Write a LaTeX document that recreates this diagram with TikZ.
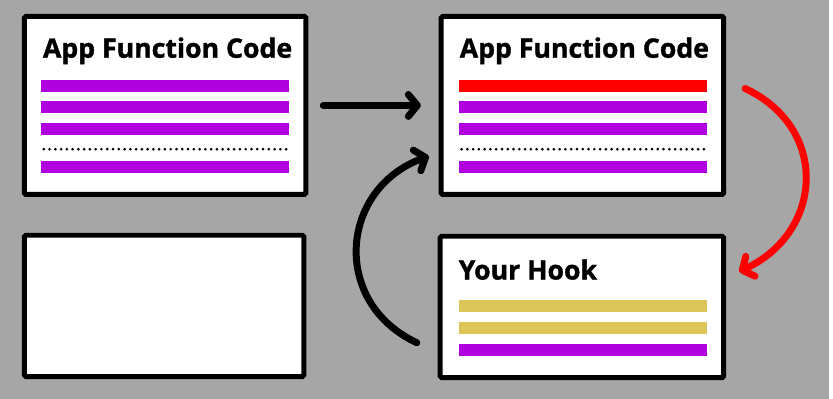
\documentclass[tikz,border=0pt]{standalone}
\usepackage{fontspec}
\setmainfont{Open Sans}[BoldFeatures={FakeBold=1.3}]
\usetikzlibrary{arrows.meta}
\definecolor{bggray}{HTML}{A6A6A6}
\definecolor{codepurple}{HTML}{B100DF}
\definecolor{hookyellow}{HTML}{DCC65A}
\definecolor{hotred}{HTML}{FF0000}
\begin{document}
\begin{tikzpicture}[x=1pt,y=1pt,
    panel/.style={draw,line width=5pt,fill=white,rounded corners=1.5pt,inner sep=0pt},
    heading/.style={anchor=base west,inner sep=0pt,font=\fontsize{26.8}{30}\selectfont\bfseries},
    dots/.style={line width=3pt,line cap=round,dash pattern=on 0pt off 5.8pt},
    flow/.style={line width=7pt,line cap=round,-{Straight Barb[length=9pt,width=22pt,round]}}]
    \fill[bggray] (0,0) rectangle (833,401);
    \node[panel,minimum width=283pt,minimum height=179pt] (code) at (166,295) {};
    \node[panel,minimum width=284pt,minimum height=179pt] (patched) at (585.5,295) {};
    \node[panel,minimum width=285pt,minimum height=142pt] (hook) at (585,92.5) {};
    \node[panel,minimum width=281pt,minimum height=142pt] (blank) at (165,93.5) {};
    \node[heading] (codetitle) at (43,343) {App Function Code};
    \node[heading] (patchedtitle) at (462,343) {App Function Code};
    \node[heading] (hooktitle) at (461,120) {Your Hook};
    \foreach \x/\y/\c in {41/315/codepurple,41/293/codepurple,41/271/codepurple,41/233/codepurple,
      461/315/hotred,461/293/codepurple,461/271/codepurple,461/233/codepurple,
      461/93/hookyellow,461/71/hookyellow,461/49/codepurple} {
      \fill[\c] (\x,\y-6) rectangle ++(250,12);
    }
    \foreach \x in {44,464} {
      \draw[dots] (\x,251) -- ++(246,0);
    }
    \draw[flow,shorten <=15pt,shorten >=18pt] (code.east) -- (patched.west);
    \draw[flow] ([shift={(-21,-36)}]hook.west) to[out=155,in=200,looseness=1.3] ([shift={(-10,-51)}]patched.west);
    \draw[flow,hotred] ([shift={(19,17)}]patched.east) to[out=-25,in=25,looseness=1.3] ([shift={(13,35.5)}]hook.east);
\end{tikzpicture}
\end{document}
